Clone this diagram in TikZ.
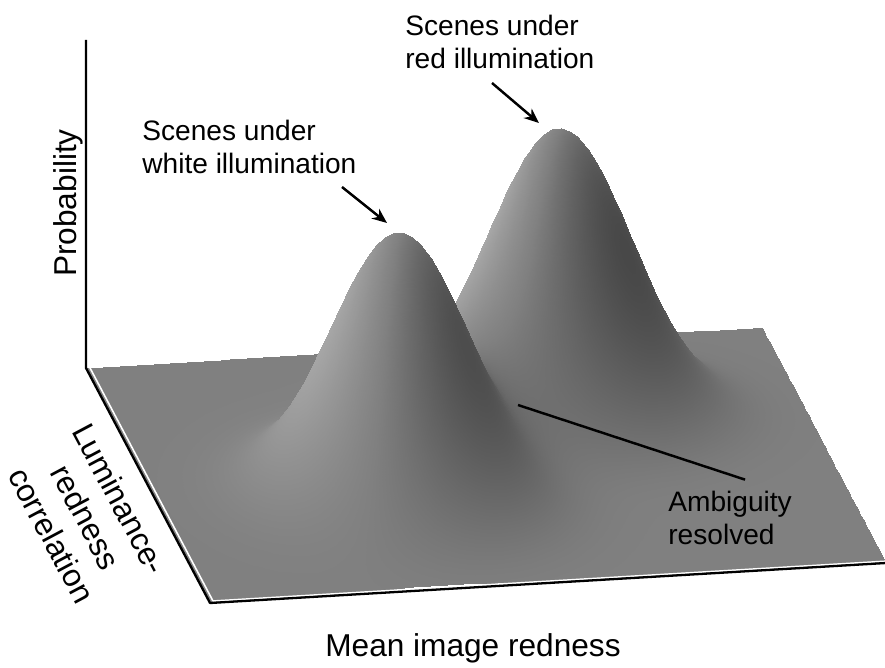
\documentclass[tikz,border=0pt]{standalone}
\usepackage{fontspec}
\setmainfont{Liberation Sans}
\usepackage{pgfplots}
\pgfplotsset{compat=1.18}
\usetikzlibrary{arrows.meta}

\tikzset{
  note/.style={font=\fontsize{16}{19}\selectfont, align=left, inner sep=0pt},
  axisname/.style={font=\fontsize{18}{22}\selectfont, align=center, inner sep=0pt},
  pointer/.style={-{Stealth[length=8.5pt,width=7pt]}, line width=1.4pt},
  rim/.style={line width=1.3pt, line join=round},
  bevel/.style={white, line width=0.9pt, line join=round},
}

\begin{document}
\begin{tikzpicture}[x=0.02cm,y=0.02cm,
  declare function={
    gw(\x,\y)=exp(-(((\x-0.354)^2)/0.02+((\y-0.6)^2)/0.0392));
    gr(\x,\y)=exp(-(((\x-0.646)^2)/0.02205+((\y-0.3)^2)/0.0288));
    hh(\x,\y)=260*gw(\x,\y)+283*gr(\x,\y);
    du(\x,\y)=-260*gw(\x,\y)*(\x-0.354)/0.01-283*gr(\x,\y)*(\x-0.646)/0.011025;
    dv(\x,\y)=-260*gw(\x,\y)*(\y-0.6)/0.0196-283*gr(\x,\y)*(\y-0.3)/0.0144;
  }]
\useasboundingbox (0,0) rectangle (885,667);

\coordinate (BL) at (86,299);
\coordinate (FL) at (210,64);
\coordinate (FR) at (886,104);
\coordinate (top) at (86,627);

% surface with the two peaks
\begin{axis}[anchor=origin, at={(BL)}, hide axis, disabledatascaling, clip=false,
    x={(13.52cm,0.8cm)}, y={(2.48cm,-4.7cm)}, z={(0cm,0.02cm)},
    xmin=0, xmax=1, ymin=0, ymax=1, zmin=0, zmax=320,
    z buffer=none,
    colormap={greys}{rgb255=(70,70,70) rgb255=(128,128,128) rgb255=(172,172,172)},
    point meta min=-3, point meta max=3]
\addplot3[surf, shader=interp, domain=0:1, y domain=0:1, samples=81, samples y=71,
    point meta={du(x,y)/676+0.3*dv(x,y)/265}] {hh(x,y)};
\end{axis}

% edges of the plane
\draw[bevel] ([shift={(3,2)}]BL) -- ([shift={(3,2)}]FL) -- ([shift={(3,2)}]FR);
\draw[rim] (top) -- (BL) -- (FL) -- (FR);

\node[axisname, rotate=90] (prob) at (68,464) {Probability};
\node[axisname] (mean) at (473,19) {Mean image redness};
\node[axisname, rotate=-62, font=\fontsize{18}{22}\selectfont] (lum) at (86,150) {Luminance-\\redness\\correlation};

\node[note, anchor=west] (red) at (405,625) {Scenes under\\red illumination};
\node[note, anchor=west] (white) at (142,520) {Scenes under\\white illumination};
\node[note, anchor=west] (amb) at (668,149) {Ambiguity\\resolved};

\coordinate (redtail) at (492,584);
\coordinate (redtip) at (539,544);
\coordinate (whitetail) at (342,480);
\coordinate (whitetip) at (387,444);
\coordinate (saddle) at (518,262);

\draw[pointer] (redtail) -- (redtip);
\draw[pointer] (whitetail) -- (whitetip);
\draw[line width=1.4pt] (amb.north) ++(15,11) -- (saddle);
\end{tikzpicture}
\end{document}
